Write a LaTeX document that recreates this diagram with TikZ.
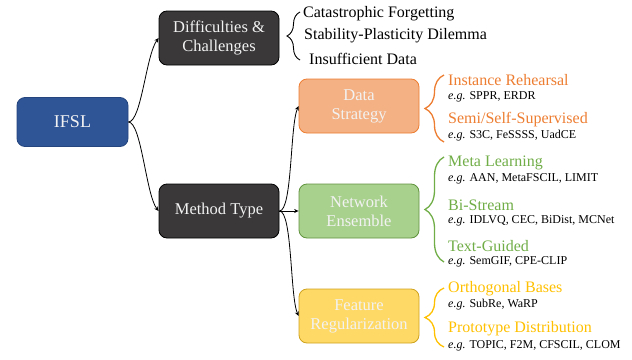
\documentclass[tikz,border=0pt]{standalone}
\usepackage{fontspec}
\setmainfont{Liberation Serif}
\usetikzlibrary{arrows.meta,decorations.pathreplacing}

\definecolor{ifslblue}{HTML}{2F5597}
\definecolor{ifsledge}{HTML}{24457E}
\definecolor{darkbox}{HTML}{3A3838}
\definecolor{orangeA}{HTML}{ED7D31}
\definecolor{orangeF}{HTML}{F4B183}
\definecolor{greenA}{HTML}{70AD47}
\definecolor{greenF}{HTML}{A9D18E}
\definecolor{yellowA}{HTML}{FFC000}
\definecolor{yellowF}{HTML}{FFD966}
\definecolor{yellowE}{HTML}{CFA21E}

\tikzset{
  box/.style={rounded corners=8pt, minimum width=120pt, minimum height=54pt,
    align=center, text=white!95!black, font=\fontsize{16.5}{19}\selectfont, line width=0.8pt},
  rootbox/.style={box, minimum width=111pt, minimum height=49pt, fill=ifslblue, draw=ifsledge,
    font=\fontsize{18}{21}\selectfont},
  darkbox/.style={box, fill=darkbox, draw=black},
  catlabel/.style={anchor=west, inner sep=0pt, font=\fontsize{16}{18}\selectfont},
  example/.style={anchor=west, inner sep=0pt, font=\fontsize{12}{14}\selectfont, text=black},
  issue/.style={anchor=west, inner sep=0pt, font=\fontsize{16}{18}\selectfont, text=black},
  link/.style={draw=black, line width=0.8pt, -{Stealth[length=4.5pt,width=4pt]}},
  curly/.style={decorate, decoration={brace, amplitude=#1}},
}

\begin{document}
\begin{tikzpicture}[x=1pt, y=-1pt]
\useasboundingbox (0,0) rectangle (632,359);

% main boxes
\node[rootbox] (ifsl) at (72.5,122) {IFSL};
\node[darkbox] (diff) at (219,38) {Difficulties \&\\Challenges};
\node[darkbox] (meth) at (219,211) {Method Type};
\node[box, fill=orangeF, draw=orangeA] (data) at (359,106) {Data\\Strategy};
\node[box, fill=greenF, draw=greenA!85!black] (net) at (359,211) {Network\\Ensemble};
\node[box, fill=yellowF, draw=yellowE] (feat) at (359,316) {Feature\\Regularization};

% connectors
\draw[link] (ifsl.east) .. controls +(13,0) and (146,55) .. (diff.west);
\draw[link] (ifsl.east) .. controls +(13,0) and (146,195) .. (meth.west);
\draw[link] (meth.east) .. controls +(13,0) and (290,125) .. (data.west);
\draw[link] (meth.east) -- (net.west);
\draw[link] (meth.east) .. controls +(13,0) and (290,297) .. (feat.west);

% difficulties
\draw[curly=13pt, line width=0.9pt] (300,60) -- (300,12);
\node[issue] (d1) at (303,14) {Catastrophic Forgetting};
\node[issue] (d2) at (304,36) {Stability-Plasticity Dilemma};
\node[issue] (d3) at (309,59) {Insufficient Data};

% data strategy
\draw[curly=19pt, line width=1.3pt, orangeA] (444,142) -- (444,75);
\node[catlabel, text=orangeA] (ir) at (448,80) {Instance Rehearsal};
\node[example] (ire) at (448,97) {\textit{e.g.} SPPR, ERDR};
\node[catlabel, text=orangeA] (ss) at (448,120) {Semi/Self-Supervised};
\node[example] (sse) at (448,136) {\textit{e.g.} S3C, FeSSSS, UadCE};

% network ensemble
\draw[curly=19pt, line width=1.3pt, greenA] (444,262) -- (444,157);
\node[catlabel, text=greenA] (ml) at (448,163) {Meta Learning};
\node[example] (mle) at (448,179) {\textit{e.g.} AAN, MetaFSCIL, LIMIT};
\node[catlabel, text=greenA] (bs) at (448,205) {Bi-Stream};
\node[example] (bse) at (448,221) {\textit{e.g.} IDLVQ, CEC, BiDist, MCNet};
\node[catlabel, text=greenA] (tg) at (448,246) {Text-Guided};
\node[example] (tge) at (448,262) {\textit{e.g.} SemGIF, CPE-CLIP};

% feature regularization
\draw[curly=19pt, line width=1.3pt, yellowA] (444,347) -- (444,288);
\node[catlabel, text=yellowA] (ob) at (448,289) {Orthogonal Bases};
\node[example] (obe) at (448,305) {\textit{e.g.} SubRe, WaRP};
\node[catlabel, text=yellowA] (pd) at (448,329) {Prototype Distribution};
\node[example] (pde) at (448,346) {\textit{e.g.} TOPIC, F2M, CFSCIL, CLOM};
\end{tikzpicture}
\end{document}
